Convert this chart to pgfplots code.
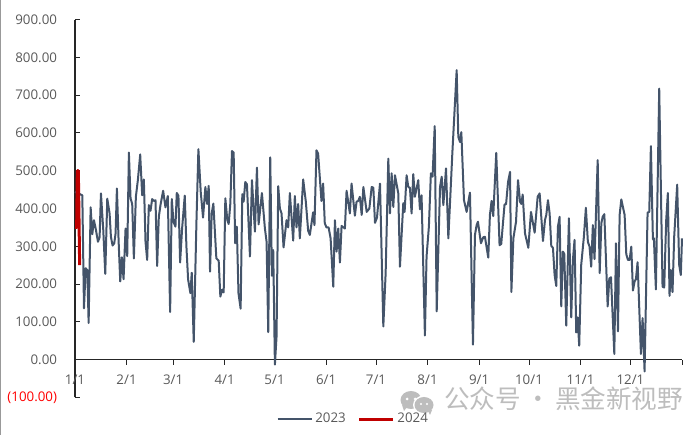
\documentclass[border=0pt]{standalone}
\usepackage{pgfplots}
\pgfplotsset{compat=1.18}
\usepackage{fontspec}
\setmainfont{Open Sans}
\newfontfamily\cjk{Noto Sans CJK SC}
\definecolor{slate}{HTML}{44546A}
\definecolor{dred}{HTML}{C00000}
\definecolor{txt}{HTML}{595959}
\definecolor{wm}{HTML}{BDBDBD}
\begin{document}
\begin{tikzpicture}
\begin{scope}[x=0.75pt,y=0.75pt]
\path[use as bounding box] (0,0) rectangle (700,435);
\draw[color=black!40,line width=0.9pt] (0.7,0) -- (0.7,435);
% watermark
\fill[wm] (411,35) ellipse [x radius=10.5,y radius=9];
\fill[wm] (404,24) -- (407,28) -- (402,30) -- cycle;
\fill[white] (424,30) ellipse [x radius=11,y radius=9.5];
\fill[wm] (424,30) ellipse [x radius=9.5,y radius=8];
\fill[wm] (430,20) -- (428,24) -- (432,25) -- cycle;
\fill[white] (407,36) circle (1.5) (415,36) circle (1.5) (421,31) circle (1.2) (427,31) circle (1.2);
\node[text=wm,anchor=west,inner sep=0pt,font=\cjk\fontsize{19.2}{21}\selectfont] at (444,36) {公众号\,·\,黑金新视野};
\end{scope}
\begin{axis}[
  at={(56.25pt,28.125pt)},
  anchor=south west,
  scale only axis,
  width=455.25pt,height=283.5pt,
  xmin=0,xmax=365,ymin=-100,ymax=900,
  axis x line=middle,axis y line=left,
  axis line style={-,black!85,line width=0.75pt},
  hide obscured x ticks=false,hide obscured y ticks=false,
  clip=false,
  tick align=outside,
  major tick length=3.75pt,
  tick style={black!85,line width=0.75pt},
  y tick style={xshift=3.75pt},
  xtick={0,31,59,90,120,151,181,212,243,273,304,334,365},
  xticklabels={1/1,2/1,3/1,4/1,5/1,6/1,7/1,8/1,9/1,10/1,11/1,12/1,},
  ytick={-100,0,100,200,300,400,500,600,700,800,900},
  yticklabels={\textcolor{red}{(100.00)},0.00,100.00,200.00,300.00,400.00,500.00,600.00,700.00,800.00,900.00},
  tick label style={text=txt,font=\fontsize{10}{12}\selectfont},
  x tick label style={yshift=-4pt},
  y tick label style={xshift=-6.2pt},
  legend style={at={(0.459,-0.041)},anchor=north,draw=none,fill=none,legend columns=2,
    font=\fontsize{10}{12}\selectfont,text=txt,
    /tikz/every even column/.style={column sep=7pt},inner sep=0pt,
    nodes={inner xsep=2pt,inner ysep=0pt}},
  legend image code/.code={\draw[#1] (0pt,0pt) -- (25.5pt,0pt);},
  legend cell align=left,
]
\addplot[slate,line width=1.5pt,line join=round] coordinates {
(0,444)(2,440)(4.4,435)(5.4,136)(6.4,242)(7.4,237)(8.2,97)(9.4,403)(10.4,332)(11.4,369)(12.6,343)(13.8,312)(14.8,324)(15.6,440)(17,343)(18.2,227)(19.4,426)(20.8,387)(21.6,325)(22.6,302)(23.6,308)(24.4,334)(25.2,453)(26.2,317)(27.2,207)(28.2,271)(29.2,213)(30.4,347)(31.4,274)(32.4,548)(33.4,427)(34.4,412)(35.4,268)(36.6,431)(37.8,475)(39.2,543)(40.4,435)(41.4,477)(42.4,312)(43.4,264)(44.4,409)(45.4,394)(46.4,425)(47.4,420)(48.4,422)(49.4,248)(50.4,378)(51.4,409)(53,447)(54.4,403)(55.8,433)(57.2,126)(58.2,425)(59.2,365)(60.4,352)(61.2,441)(62.2,434)(63.2,257)(64.4,347)(66,434)(67,299)(68,213)(69.4,176)(70.2,230)(71.4,47)(73,360)(74.2,557)(75.6,444)(77,376)(78.4,457)(79.4,412)(80.4,460)(81.2,233)(82.2,387)(83.2,413)(85,268)(86.4,262)(87.4,167)(88.4,185)(89.4,178)(90.4,427)(91.6,369)(92.4,359)(93.4,413)(94.4,552)(95.4,548)
(96.3,308)(97.3,352)(98.3,176)(99.6,135)(100.6,438)(101.4,418)(102.4,470)(103.4,464)(105.2,273)(106.4,475)(108.2,339)(109.4,508)(110.4,358)(112.4,441)(114.2,347)(115.2,312)(116.2,73)(117.4,535)(118.4,222)(119.2,290)(120.2,-13)(121.2,62)(122.2,459)(123.2,400)(124.2,387)(125.4,297)(127.2,369)(128.2,350)(129.2,441)(131.2,315)(132.2,433)(133.2,350)(134.2,412)(135.2,321)(137.2,477)(138.8,418)(140.2,341)(141.2,330)(143.2,390)(144,356)(145.2,554)(146.2,545)(148.2,420)(149.2,466)(150.2,361)(151.2,350)(152.5,350)(153.7,321)(155.3,193)(156.3,369)(157.3,286)(158.3,347)(159.3,257)(160.3,354)(162.3,347)(163.3,447)(165.3,387)(166.3,466)(168.3,381)(169.3,418)(170.3,420)(171.3,431)(172.4,383)(173.4,457)(175.4,391)(177,400)(178.4,457)(179.4,455)(180.4,362)(181.6,376)(183.4,466)(185.4,88)(186.8,229)(188.4,532)(189.4,387)(190.4,493)(191.4,404)(192.4,488)(194.4,440)(195.4,246)(197.4,414)(198.2,391)(199.4,488)(200.4,457)(201.4,455)(202.4,387)(203.4,491)(204.4,431)(206.4,475)(207.4,398)(208.4,435)(210.4,64)(211.4,273)(212.8,352)(214,493)(215,484)(216.3,618)(217.5,128)(219.5,457)(220.5,484)(221.5,409)(223.1,506)(224.5,321)(226.9,546)(229.5,766)(230.5,589)(231.5,576)(232.3,602)(233.9,422)(235.5,391)(237.5,442)
(239.3,40)(240.5,330)(241.5,356)(242.3,365)(244.1,308)(245.5,324)(246.5,325)(248.5,270)(249.5,383)(250.5,420)(251.5,380)(253.3,547)(255.3,303)(256.3,306)(258.3,411)(259.2,411)(260.4,470)(261.6,497)(262.4,179)(263.6,321)(265.2,365)(266.4,475)(267.6,418)(268.4,412)(269.2,437)(270.6,334)(272.6,296)(274.2,391)(276.4,336)(278.2,431)(279.4,440)(281.4,314)(282.6,369)(283.4,383)(284.4,422)(285.4,387)(286.4,301)(287.4,296)(288.4,224)(289.4,195)(290.4,352)(291.4,378)(292.4,141)(293.4,286)(294.2,280)(295.4,90)(297,374)(298.4,112)(299.4,264)(300.4,317)(301.4,72)(302.2,112)(303.2,37)(304.4,251)(306,325)(307.2,402)(308.4,312)(309.4,299)(310.4,246)(311.4,356)(312.4,266)(314.3,528)(315.5,229)(316.5,361)(317.3,378)(318.3,385)(320.3,141)(321.3,215)(322.3,218)(324.3,15)(325.3,308)(326.5,75)(327.5,383)(328.5,424)(330.5,383)(331.5,279)(332.5,264)(333.5,264)(334.5,299)(335.5,183)(336.5,207)(337.3,213)(338.3,258)(340.3,15)(341.3,110)(342.5,-31)(344.3,389)(345.3,391)(346.3,565)(347.5,319)(348.1,321)(349.3,186)(351.3,717)(353.3,193)(354.3,191)(355.5,369)(356.5,441)(357.5,169)(358.3,237)(359.3,179)(360.3,325)(362.1,463)(363.3,251)(364.3,224)(365,321)
};
\addlegendentry{2023}
\addplot[dred,line width=2.25pt,line join=round] coordinates {(0,350)(1,350)(1.4,500)(2,500)(2.8,250)};
\addlegendentry{2024}
\end{axis}
\end{tikzpicture}
\end{document}
